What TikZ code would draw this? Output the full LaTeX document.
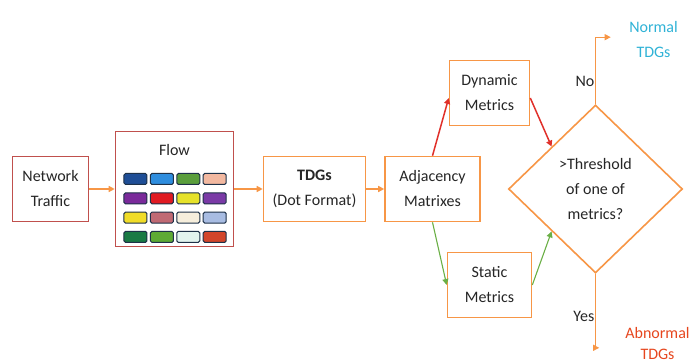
\documentclass[tikz,border=0pt]{standalone}
\usepackage{fontspec}
\setmainfont{Carlito}
\usetikzlibrary{shapes.geometric,arrows.meta}
\definecolor{boxred}{HTML}{C0504D}
\definecolor{boxorange}{HTML}{F79646}
\definecolor{arrred}{HTML}{E0302A}
\definecolor{arrgreen}{HTML}{6AAF45}
\definecolor{normalblue}{HTML}{2FB2D6}
\definecolor{abnormalred}{HTML}{E6461E}
\definecolor{txt}{HTML}{262626}
\definecolor{cellline}{HTML}{1E3148}
\tikzset{
  >={Triangle[length=6pt,width=6pt]},
  box/.style={draw=boxorange, line width=1.6pt, fill=white, minimum height=65pt,
    align=center, text=txt, font=\fontsize{16}{25}\selectfont},
  cell/.style={draw=cellline, line width=1pt, rounded corners=1.5pt,
    minimum width=23pt, minimum height=11pt, inner sep=0pt},
  lbl/.style={text=txt, align=center, font=\fontsize{16}{25}\selectfont},
  orangearr/.style={->, draw=boxorange, color=boxorange, line width=2pt},
  redarr/.style={->, color=arrred, line width=1.5pt},
  greenarr/.style={->, color=arrgreen, line width=1.1pt}
}
\begin{document}
\begin{tikzpicture}[ampersand replacement=\&]
        \matrix[column sep={0pt,between origins}, row sep={96pt,between origins}] at (0,0)
        {
          \&[124pt] \&[140pt] \&[118pt] \&[57pt] \node[box, minimum width=80pt](dyn) {Dynamic\\Metrics}; \&[106pt] \\
          \node[box, draw=boxred, minimum width=76pt](net) {Network\\Traffic}; \&[124pt]
          \node[box, draw=boxred, minimum width=118pt, minimum height=115pt](flow) {}; \&[140pt]
          \node[box, minimum width=102pt](tdg) {\textbf{TDGs}\\(Dot Format)}; \&[118pt]
          \node[box, minimum width=95pt](adj) {Adjacency\\Matrixes}; \&[57pt] \&[106pt]
          \node[box, diamond, inner sep=0pt, minimum width=174pt, minimum height=168pt](dia) {\textgreater Threshold\\of one of\\metrics?}; \\
          \&[124pt] \&[140pt] \&[118pt] \&[57pt] \node[box, minimum width=84pt](stat) {Static\\Metrics}; \&[106pt] \\
        };
        % flow table
        \node[lbl, anchor=north, inner sep=0pt] (flowtitle) at ([yshift=-13pt]flow.north) {Flow};
        \foreach \c [count=\i from 0] in {1F4E96,2E8DDE,5A9E3C,F2B8A0,7A2A9A,E01A22,E6E22A,7A3AA6,
            F0DC28,C06A74,F6EEDC,A8BCE2,1A7A44,5EAA34,E2F4EE,D2452A} {
          \pgfmathtruncatemacro\r{\i/4}
          \pgfmathtruncatemacro\k{mod(\i,4)}
          \definecolor{cellc}{HTML}{\c}
          \node[cell, fill=cellc] (cell\i) at ([shift={(\k*26.4pt-39pt, 10pt-\r*19.3pt)}]flow.center) {};
        }
        % outputs
        \node[lbl, text=normalblue] (normal) at ([shift={(58pt,65pt)}]dia.north) {Normal\\TDGs};
        \node[lbl, text=abnormalred, inner sep=1pt, font=\fontsize{16}{21}\selectfont] (abnormal) at ([shift={(62pt,-70pt)}]dia.south) {Abnormal\\TDGs};
        \node[lbl, anchor=east, inner sep=1pt] (no) at ([yshift=23pt]dia.north) {No};
        \node[lbl, anchor=east, inner sep=1pt] (yes) at ([yshift=-43pt]dia.south) {Yes};
        \draw[orangearr] (net) -- (flow);
        \draw[orangearr] (flow) -- (tdg);
        \draw[orangearr] (tdg) -- (adj);
        \draw[redarr] (adj.north) -- ([yshift=-5pt]dyn.west);
        \draw[redarr] ([yshift=-5pt]dyn.east) -- (dia.north west);
        \draw[greenarr] (adj.south) -- (stat.west);
        \draw[greenarr] (stat.east) -- (dia.south west);
        \draw[orangearr, line width=1.2pt, shorten >=15pt] (dia.north) |- ([yshift=2pt]normal.west);
        \draw[orangearr, line width=1.2pt, shorten >=25pt] (dia.south) |- ([yshift=-4pt]abnormal.west);
        \pgfresetboundingbox
        \useasboundingbox ([shift={(-50.5pt,189pt)}]net.center) rectangle ([shift={(641.5pt,-174pt)}]net.center);
      \end{tikzpicture}
\end{document}
